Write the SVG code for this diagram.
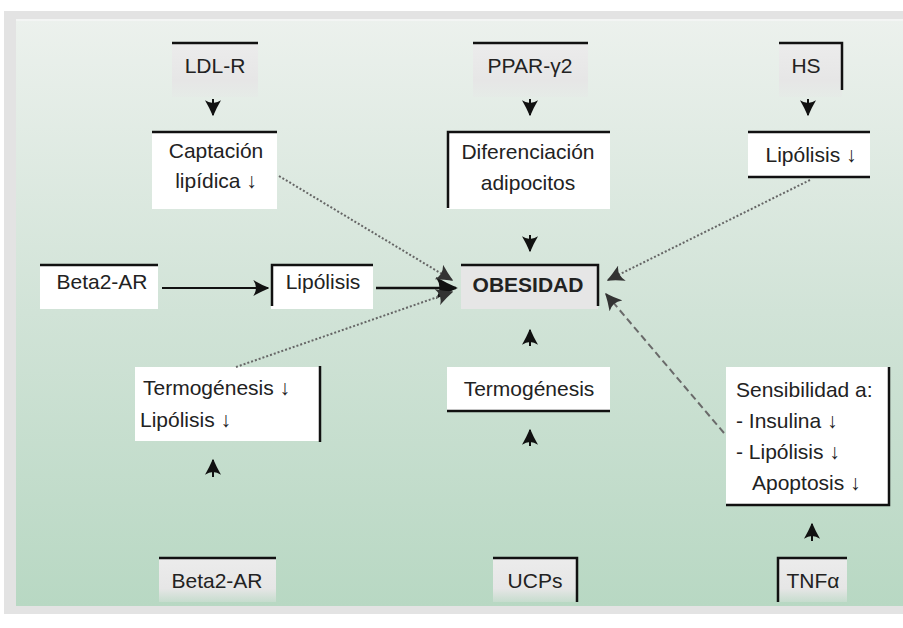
<svg xmlns="http://www.w3.org/2000/svg" width="903" height="628" viewBox="0 0 903 628">
<defs>
<linearGradient id="bg" x1="0" y1="0" x2="0" y2="1">
<stop offset="0" stop-color="#ecf1ed"/>
<stop offset="0.5" stop-color="#d1e3d7"/>
<stop offset="1" stop-color="#b8d8c3"/>
</linearGradient>
<linearGradient id="gene" x1="0" y1="0" x2="0" y2="1">
<stop offset="0" stop-color="#ececec"/>
<stop offset="0.7" stop-color="#e6e6e6"/>
<stop offset="1" stop-color="#e6e6e6" stop-opacity="0.3"/>
</linearGradient>
<marker id="ah" viewBox="0 0 12 12" refX="11" refY="6" markerWidth="16" markerHeight="16" markerUnits="userSpaceOnUse" orient="auto">
<path d="M0,0 Q6,3.5 12,6 Q6,8.5 0,12 Q4,6 0,0 z" fill="#111"/>
</marker>
<marker id="ahBig" viewBox="0 0 12 12" refX="11" refY="6" markerWidth="22" markerHeight="22" markerUnits="userSpaceOnUse" orient="auto">
<path d="M0,0 Q6,3.5 12,6 Q6,8.5 0,12 Q4,6 0,0 z" fill="#111"/>
</marker>
<marker id="ahG" viewBox="0 0 12 12" refX="11" refY="6" markerWidth="17" markerHeight="17" markerUnits="userSpaceOnUse" orient="auto">
<path d="M0,0 Q6,3.5 12,6 Q6,8.5 0,12 Q4,6 0,0 z" fill="#333"/>
</marker>
</defs>
<style>
.t{font-family:"Liberation Sans","DejaVu Sans",Arial,sans-serif;font-size:21px;fill:#222;text-anchor:middle}
.b{font-weight:bold;font-size:21px}
.l{text-anchor:start}
.ln{stroke:#111;stroke-width:2.5;fill:none}
.wb{fill:#ffffff}
.gb{fill:url(#gene)}
.c{stroke:#111;stroke-width:2;fill:none}
.d{stroke:#666;stroke-width:2;stroke-dasharray:2 2;fill:none}
.dd{stroke:#6a6a6a;stroke-width:2;stroke-dasharray:7 4;fill:none}
</style>
<rect x="0" y="0" width="903" height="628" fill="#ffffff"/>
<rect x="4" y="11" width="899" height="603" fill="#e3e3e3"/>
<rect x="16" y="19" width="887" height="587" fill="url(#bg)"/>
<line x1="16" y1="20" x2="903" y2="20" stroke="#f6f6f6" stroke-width="1.5"/>

<g id="ldlr"><rect class="gb" x="172" y="42" width="86" height="55"/><line class="ln" x1="172" y1="43" x2="258" y2="43"/><text class="t" x="215" y="73">LDL-R</text></g>
<g id="ppar"><rect class="gb" x="473" y="42" width="115" height="55"/><line class="ln" x1="473" y1="43" x2="588" y2="43"/><text class="t" x="530" y="73">PPAR-γ2</text></g>
<g id="hs"><rect class="gb" x="779" y="42" width="63" height="55"/><path class="ln" d="M779,43 H842 V90"/><text class="t" x="806" y="73">HS</text></g>

<g id="captacion"><rect class="wb" x="152" y="131" width="125" height="78"/><line class="ln" x1="152" y1="132" x2="277" y2="132"/><text class="t" x="216" y="158">Captación</text><text class="t" x="216" y="188">lipídica ↓</text></g>
<g id="diferenciacion"><rect class="wb" x="447" y="131" width="163" height="78"/><path class="ln" d="M610,132 H448 V208"/><text class="t" x="528" y="159">Diferenciación</text><text class="t" x="528" y="190">adipocitos</text></g>
<g id="lipolisis-hs"><rect class="wb" x="748" y="131" width="122" height="47"/><line class="ln" x1="748" y1="132" x2="870" y2="132"/><line class="ln" x1="748" y1="177" x2="870" y2="177"/><text class="t" x="811" y="162">Lipólisis ↓</text></g>

<g id="beta-left"><rect class="wb" x="40" y="264" width="118" height="45"/><line class="ln" x1="40" y1="265" x2="158" y2="265"/><text class="t" x="102" y="289">Beta2-AR</text></g>
<g id="lipolisis-mid"><rect class="wb" x="271" y="264" width="102" height="45"/><path class="ln" d="M373,265 H272 V306"/><text class="t" x="323" y="289">Lipólisis</text></g>
<g id="obesidad"><rect x="461" y="264" width="137" height="45" fill="#e6e6e6"/><path class="ln" d="M461,265 H598 V306"/><text class="t b" x="528" y="292">OBESIDAD</text></g>

<g id="termo-lipo"><rect class="wb" x="135" y="367" width="185" height="74"/><line class="ln" x1="320" y1="366" x2="320" y2="442"/><text class="t l" x="143" y="395">Termogénesis ↓</text><text class="t l" x="140" y="427">Lipólisis ↓</text></g>
<g id="termogenesis"><rect class="wb" x="447" y="367" width="163" height="45"/><line class="ln" x1="447" y1="411" x2="610" y2="411"/><text class="t" x="529" y="396">Termogénesis</text></g>
<g id="sensibilidad"><rect class="wb" x="726" y="367" width="164" height="139"/><path class="ln" d="M889,367 V505 H726"/><text class="t l" x="736" y="397">Sensibilidad a:</text><text class="t l" x="736" y="428">- Insulina ↓</text><text class="t l" x="736" y="459">- Lipólisis ↓</text><text class="t l" x="752" y="490">Apoptosis ↓</text></g>

<g id="beta-bottom"><rect class="gb" x="159" y="557" width="117" height="45"/><line class="ln" x1="159" y1="558" x2="276" y2="558"/><text class="t" x="217" y="588">Beta2-AR</text></g>
<g id="ucps"><rect class="gb" x="493" y="557" width="84" height="45"/><path class="ln" d="M493,558 H577 V602"/><text class="t" x="535" y="588">UCPs</text></g>
<g id="tnfa"><rect class="gb" x="777" y="557" width="70" height="45"/><path class="ln" d="M847,558 H778 V602"/><text class="t" x="813" y="588">TNFα</text></g>

<g id="connectors">
<line class="c" x1="213" y1="99" x2="213" y2="115" marker-end="url(#ah)"/>
<line class="c" x1="530" y1="99" x2="530" y2="115" marker-end="url(#ah)"/>
<line class="c" x1="808" y1="99" x2="808" y2="115" marker-end="url(#ah)"/>
<line class="c" x1="530" y1="235" x2="530" y2="251" marker-end="url(#ah)"/>
<line class="c" x1="530" y1="346" x2="530" y2="330" marker-end="url(#ah)"/>
<line class="c" x1="530" y1="446" x2="530" y2="430" marker-end="url(#ah)"/>
<line class="c" x1="213" y1="477" x2="213" y2="460" marker-end="url(#ah)"/>
<line class="c" x1="812" y1="541" x2="812" y2="524" marker-end="url(#ah)"/>
<line class="c" x1="162" y1="288" x2="268" y2="288" marker-end="url(#ah)"/>
<line stroke="#111" stroke-width="2.5" x1="376" y1="288" x2="456" y2="288" marker-end="url(#ahBig)"/>
<line class="d" x1="279" y1="176" x2="452" y2="280" marker-end="url(#ahG)"/>
<line class="d" x1="236" y1="367" x2="452" y2="292" marker-end="url(#ahG)"/>
<line class="d" x1="810" y1="180" x2="608" y2="280" marker-end="url(#ahG)"/>
<line class="dd" x1="724" y1="433" x2="606" y2="294" marker-end="url(#ahG)"/>
</g>
</svg>
